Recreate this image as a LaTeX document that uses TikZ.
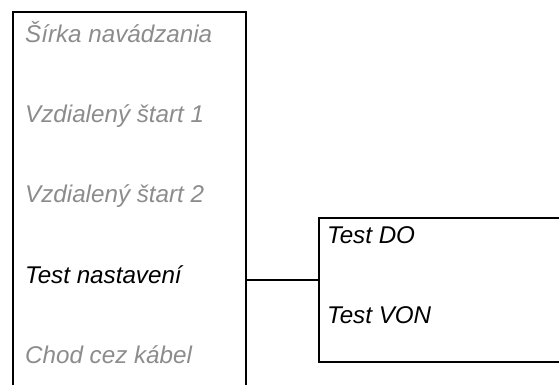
\documentclass[tikz,border=0pt]{standalone}
\usepackage{fontspec}
\setmainfont{Liberation Sans}
\usetikzlibrary{positioning}
\definecolor{itemgray}{RGB}{140,140,140}

\begin{document}
\begin{tikzpicture}[
    x=1pt, y=-1pt,
    panel/.style={inner sep=0pt, outer sep=0pt},
    item/.style={anchor=base west, inner sep=0pt, font=\fontsize{24.2}{28}\selectfont\itshape, text=itemgray},
    active/.style={item, text=black},
    line/.style={line width=1.2pt}
]
\useasboundingbox (0,0) rectangle (559,385);
\node[panel, minimum width=233pt, minimum height=373pt] (menu) at (129.5,198.5) {};
\node[panel, minimum width=240pt, minimum height=144pt] (submenu) at (439,290) {};

\node[item] (sirka) at (25,43) {Šírka navádzania};
\node[item] (start1) at (25,122) {Vzdialený štart 1};
\node[item] (start2) at (25,202) {Vzdialený štart 2};
\node[active] (nastaveni) at (25,283) {Test nastavení};
\node[item] (kabel) at (25,363) {Chod cez kábel};

\node[active] (testdo) at (327,243) {Test DO};
\node[active] (testvon) at (327,323) {Test VON};

\draw[line] (menu.south west) -- (menu.north west) -- (menu.north east) -- (menu.south east);
\draw[line] (submenu.north east) -- (submenu.north west) -- (submenu.south west) -- (submenu.south east);
\coordinate (link) at ([yshift=10pt]submenu.west);
\draw[line] (link -| menu.east) -- (link);
\end{tikzpicture}
\end{document}
